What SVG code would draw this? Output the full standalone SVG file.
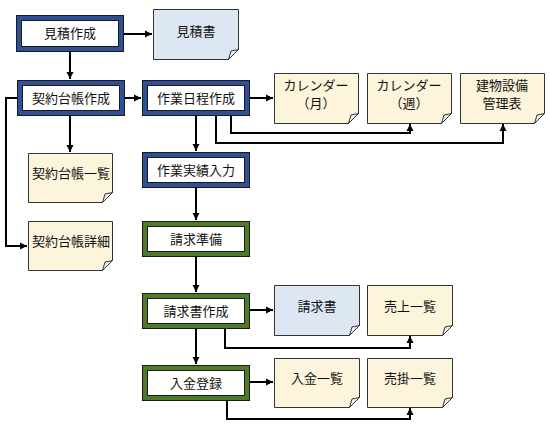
<svg xmlns="http://www.w3.org/2000/svg" width="550" height="432" viewBox="0 0 550 432">
<defs>
<marker id="ah" markerWidth="8" markerHeight="8" refX="7" refY="4" orient="auto" markerUnits="userSpaceOnUse">
<path d="M0,0.5 L7,4 L0,7.5 z" fill="#000"/>
</marker>
<style>
.pb{fill:#2F4F98;stroke:#1a1a1a;stroke-width:1}
.pg{fill:#4F7A2A;stroke:#1a1a1a;stroke-width:1}
.in{fill:#fff;stroke:#1a1a1a;stroke-width:1}
.dc{fill:#FDF4DC;stroke:#333;stroke-width:1}
.db{fill:#DDE7F3;stroke:#333;stroke-width:1}
.fold{fill:#eee;stroke:#333;stroke-width:1}
text{font-family:"Noto Sans CJK JP","Noto Sans CJK SC",sans-serif;font-size:13px;fill:#111;text-anchor:middle}
.c path{fill:none;stroke:#000;stroke-width:2}
</style>
</defs>
<rect width="550" height="432" fill="#fff"/>

<g class="c" id="connectors">
<path d="M124,34 H152" marker-end="url(#ah)"/>
<path d="M70,52 V79" marker-end="url(#ah)"/>
<path d="M124,98 H141" marker-end="url(#ah)"/>
<path d="M249,98 H273" marker-end="url(#ah)"/>
<path d="M231,116 V133 H410 V124" marker-end="url(#ah)"/>
<path d="M216,116 V143 H503 V124" marker-end="url(#ah)"/>
<path d="M196,116 V151" marker-end="url(#ah)"/>
<path d="M70,116 V152" marker-end="url(#ah)"/>
<path d="M17,98 H6 V246 H27" marker-end="url(#ah)"/>
<path d="M196,187 V220" marker-end="url(#ah)"/>
<path d="M196,256 V292" marker-end="url(#ah)"/>
<path d="M249,310 H273" marker-end="url(#ah)"/>
<path d="M225,328 V348 H410 V336" marker-end="url(#ah)"/>
<path d="M196,328 V364" marker-end="url(#ah)"/>
<path d="M249,382 H273" marker-end="url(#ah)"/>
<path d="M227,401 V419 H410 V408" marker-end="url(#ah)"/>
</g>

<g id="mitsumori-sakusei">
<rect class="pb" x="16.5" y="15.5" width="107" height="36"/>
<rect class="in" x="21.5" y="20.5" width="97" height="26"/>
<text x="70" y="38">見積作成</text>
</g>
<g id="mitsumorisho">
<path class="db" d="M153.5,9.5 H238.5 V49.5 L228.5,59.5 H153.5 Z"/>
<path class="fold" d="M228.5,59.5 L231,51 L238.5,49.5 Z"/>
<text x="196" y="36">見積書</text>
</g>
<g id="keiyaku-sakusei">
<rect class="pb" x="17.5" y="80.5" width="107" height="35"/>
<rect class="in" x="22.5" y="85.5" width="97" height="25"/>
<text x="71" y="103">契約台帳作成</text>
</g>
<g id="sagyo-nittei">
<rect class="pb" x="142.5" y="80.5" width="107" height="35"/>
<rect class="in" x="147.5" y="85.5" width="97" height="25"/>
<text x="196" y="103">作業日程作成</text>
</g>
<g id="cal-month">
<path class="dc" d="M274.5,73.5 H358.5 V113.5 L348.5,123.5 H274.5 Z"/>
<path class="fold" d="M348.5,123.5 L351,115 L358.5,113.5 Z"/>
<text x="316" y="90">カレンダー</text>
<text x="316" y="108">（月）</text>
</g>
<g id="cal-week">
<path class="dc" d="M367.5,73.5 H451.5 V113.5 L441.5,123.5 H367.5 Z"/>
<path class="fold" d="M441.5,123.5 L444,115 L451.5,113.5 Z"/>
<text x="409" y="90">カレンダー</text>
<text x="409" y="108">（週）</text>
</g>
<g id="tatemono">
<path class="dc" d="M460.5,73.5 H544.5 V113.5 L534.5,123.5 H460.5 Z"/>
<path class="fold" d="M534.5,123.5 L537,115 L544.5,113.5 Z"/>
<text x="502" y="90">建物設備</text>
<text x="502" y="108">管理表</text>
</g>
<g id="keiyaku-ichiran">
<path class="dc" d="M28.5,153.5 H112.5 V192.5 L102.5,202.5 H28.5 Z"/>
<path class="fold" d="M102.5,202.5 L105,194 L112.5,192.5 Z"/>
<text x="71" y="178">契約台帳一覧</text>
</g>
<g id="keiyaku-shosai">
<path class="dc" d="M28.5,221.5 H112.5 V260.5 L102.5,270.5 H28.5 Z"/>
<path class="fold" d="M102.5,270.5 L105,262 L112.5,260.5 Z"/>
<text x="71" y="246">契約台帳詳細</text>
</g>
<g id="sagyo-jisseki">
<rect class="pb" x="142.5" y="152.5" width="107" height="35"/>
<rect class="in" x="147.5" y="157.5" width="97" height="25"/>
<text x="196" y="175">作業実績入力</text>
</g>
<g id="seikyu-junbi">
<rect class="pg" x="142.5" y="221.5" width="107" height="35"/>
<rect class="in" x="147.5" y="226.5" width="97" height="25"/>
<text x="196" y="244">請求準備</text>
</g>
<g id="seikyusho-sakusei">
<rect class="pg" x="142.5" y="293.5" width="107" height="35"/>
<rect class="in" x="147.5" y="298.5" width="97" height="25"/>
<text x="196" y="316">請求書作成</text>
</g>
<g id="seikyusho">
<path class="db" d="M274.5,285.5 H359.5 V325.5 L349.5,335.5 H274.5 Z"/>
<path class="fold" d="M349.5,335.5 L352,327 L359.5,325.5 Z"/>
<text x="317" y="311">請求書</text>
</g>
<g id="uriage-ichiran">
<path class="dc" d="M367.5,285.5 H452.5 V325.5 L442.5,335.5 H367.5 Z"/>
<path class="fold" d="M442.5,335.5 L445,327 L452.5,325.5 Z"/>
<text x="410" y="311">売上一覧</text>
</g>
<g id="nyukin-toroku">
<rect class="pg" x="142.5" y="365.5" width="107" height="35"/>
<rect class="in" x="147.5" y="370.5" width="97" height="25"/>
<text x="196" y="388">入金登録</text>
</g>
<g id="nyukin-ichiran">
<path class="dc" d="M274.5,358.5 H359.5 V397.5 L349.5,407.5 H274.5 Z"/>
<path class="fold" d="M349.5,407.5 L352,399 L359.5,397.5 Z"/>
<text x="317" y="383">入金一覧</text>
</g>
<g id="urikake-ichiran">
<path class="dc" d="M367.5,358.5 H452.5 V397.5 L442.5,407.5 H367.5 Z"/>
<path class="fold" d="M442.5,407.5 L445,399 L452.5,397.5 Z"/>
<text x="410" y="383">売掛一覧</text>
</g>
</svg>
